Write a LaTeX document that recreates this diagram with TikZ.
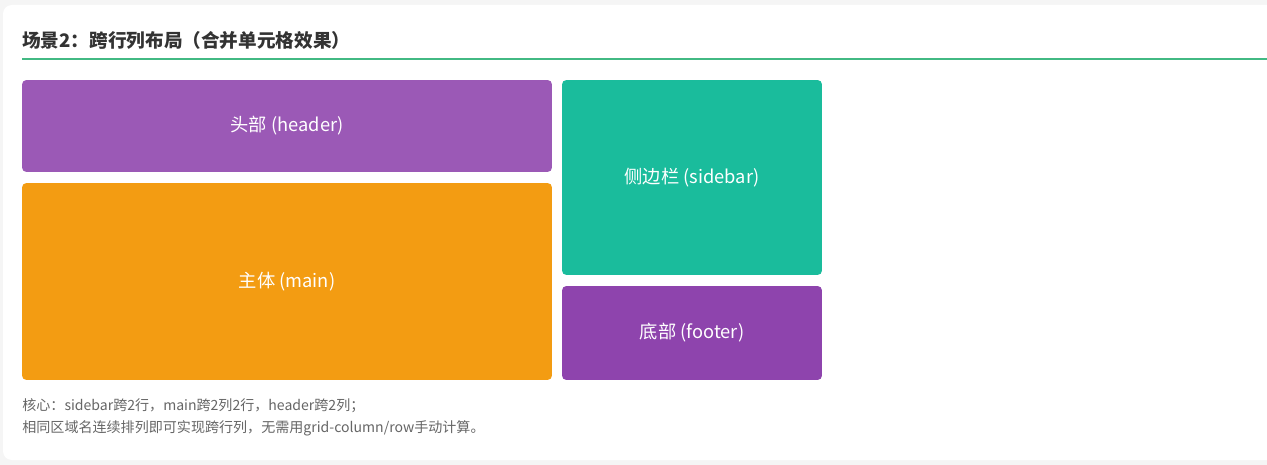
\documentclass[tikz,border=0pt]{standalone}
\usepackage{fontspec}
\setmainfont{Noto Sans CJK SC}
\definecolor{headpurple}{HTML}{9B59B6}
\definecolor{mainorange}{HTML}{F39C12}
\definecolor{sideteal}{HTML}{1ABC9C}
\definecolor{footpurple}{HTML}{8E44AD}
\definecolor{rulegreen}{HTML}{42B983}
\definecolor{titlegray}{HTML}{333333}
\definecolor{notegray}{HTML}{666666}
\begin{document}
\begin{tikzpicture}[x=0.02cm, y=-0.02cm,
	area/.style={rounded corners=2.5pt, inner sep=0pt, text=white, font=\fontsize{10.4pt}{12pt}\selectfont},
	note/.style={anchor=west, inner sep=0pt, text=notegray, font=\fontsize{8pt}{9.6pt}\selectfont}]
	\useasboundingbox (0, 0) rectangle (1267, 465);
	\fill[black!4] (0, 0) rectangle (1267, 465);
	\fill[white, rounded corners=5pt] (3, 5) rectangle (1300, 460);

	\node[anchor=west, inner sep=0pt, text=titlegray, font=\fontsize{10.6pt}{12.7pt}\selectfont\bfseries] (title) at (22, 40) {场景2：跨行列布局（合并单元格效果）};
	\draw[rulegreen, line width=1.1pt] (22, 59) -- (1267, 59);

	\node[area, fill=headpurple, minimum width=10.6cm, minimum height=1.84cm] (header) at (287, 126) {头部 (header)};
	\node[area, fill=mainorange, minimum width=10.6cm, minimum height=3.94cm] (main) at (287, 281.5) {主体 (main)};
	\node[area, fill=sideteal, minimum width=5.2cm, minimum height=3.9cm] (sidebar) at (692, 177.5) {侧边栏 (sidebar)};
	\node[area, fill=footpurple, minimum width=5.2cm, minimum height=1.88cm] (footer) at (692, 333) {底部 (footer)};

	\node[note] (note-one) at (22, 406) {核心：sidebar跨2行，main跨2列2行，header跨2列；};
	\node[note] (note-two) at (22, 428) {相同区域名连续排列即可实现跨行列，无需用grid-column/row手动计算。};
\end{tikzpicture}
\end{document}
